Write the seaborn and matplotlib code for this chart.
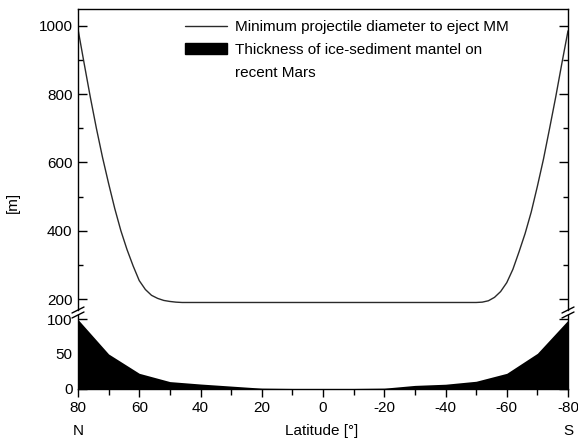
import matplotlib
matplotlib.use("Agg")
import numpy as np
import pandas as pd
import seaborn as sns
import matplotlib.pyplot as plt
from matplotlib.lines import Line2D
from matplotlib.patches import Patch
from matplotlib.ticker import MultipleLocator

# Минимальный диаметр снаряда (кривая)
lat_curve = [80, 78, 76, 74, 72, 70, 68, 66, 64, 62, 60, 58, 56, 54, 52, 50, 48, 46, 44,
             20, 0, -20, -40,
             -50, -52, -54, -56, -58, -60, -62, -64, -66, -68, -70, -72, -74, -76, -78, -80]
diam_curve = [990, 890, 792, 700, 615, 538, 465, 400, 345, 297, 254, 228, 211, 202, 196, 193, 191, 190, 190,
              190, 190, 190, 190,
              190, 191, 195, 205, 222, 248, 287, 338, 392, 455, 530, 610, 700, 792, 890, 985]

# Толщина ледяно-осадочной мантии
lat_mantle = [80, 70, 60, 50, 40, 30, 20, 10, 0, -10, -20, -30, -40, -50, -60, -70, -80]
thick_mantle = [100, 50, 22, 10, 6.5, 3.5, 0.5, 0, 0, 0, 0.5, 4.5, 6.2, 10.5, 22, 51, 99]

label_curve = "Minimum projectile diameter to eject MM"
label_mantle = ["Thickness of ice-sediment mantel on", "recent Mars"]

sns.set_style("ticks")
plt.rcParams['font.family'] = ['Liberation Sans', 'DejaVu Sans']
plt.rcParams['font.size'] = 11
plt.rcParams['axes.unicode_minus'] = False
plt.rcParams['text.color'] = 'black'
plt.rcParams['xtick.color'] = 'black'
plt.rcParams['ytick.color'] = 'black'

W, H = 578, 441
fig = plt.figure(figsize=(W / 100, H / 100), dpi=100)

def px(x, y):
    return x / W, 1 - y / H

left, right = 78, 568
top_y0, top_y1 = 9, 310
bot_y0, bot_y1 = 315, 388.5
ax_top = fig.add_axes([left / W, 1 - top_y1 / H, (right - left) / W, (top_y1 - top_y0) / H])
ax_bot = fig.add_axes([left / W, 1 - bot_y1 / H, (right - left) / W, (bot_y1 - bot_y0) / H])

df_curve = pd.DataFrame({"lat": lat_curve, "diam": diam_curve})
sns.lineplot(data=df_curve, x="lat", y="diam", ax=ax_top, color="#2a2a2a", lw=1.0,
             sort=False, label=label_curve)

ax_bot.fill_between(lat_mantle, 0, thick_mantle, color="black", lw=0)

for ax in (ax_top, ax_bot):
    ax.set_xlim(80, -80)
    ax.set_xlabel("")
    ax.set_ylabel("")
    for s in ax.spines.values():
        s.set_linewidth(1.0)
        s.set_color("black")

ax_top.set_ylim(168, 1049)
ax_top.spines["bottom"].set_visible(False)
ax_top.yaxis.set_major_locator(MultipleLocator(200))
ax_top.yaxis.set_minor_locator(MultipleLocator(100))
ax_top.set_yticks([200, 400, 600, 800, 1000])
ax_top.tick_params(axis="x", which="both", bottom=False, top=False, labelbottom=False)
ax_top.tick_params(axis="y", which="major", direction="in", left=True, right=True,
                   length=6.5, width=1.0, pad=4, labelsize=11)
ax_top.tick_params(axis="y", which="minor", direction="in", left=True, right=True,
                   length=3.5, width=1.0)

ax_bot.set_ylim(0, 106.5)
ax_bot.spines["top"].set_visible(False)
ax_bot.set_yticks([0, 50, 100])
ax_bot.xaxis.set_major_locator(MultipleLocator(20))
ax_bot.xaxis.set_minor_locator(MultipleLocator(10))
ax_bot.tick_params(axis="y", which="major", direction="in", left=True, right=True,
                   length=6.5, width=1.0, pad=4, labelsize=11)
ax_bot.tick_params(axis="x", which="major", direction="out", length=6, width=1.0,
                   pad=3, labelsize=11)
ax_bot.tick_params(axis="x", which="minor", direction="out", length=4, width=1.0)

# Легенда: второй подписи прямоугольник ставим к первой строке
h1, l1 = ax_top.get_legend_handles_labels()
handles = [h1[0], Patch(facecolor="black", edgecolor="black"),
           Patch(facecolor="none", edgecolor="none")]
leg = ax_top.legend(handles, [label_curve] + label_mantle, loc="upper left",
                    bbox_to_anchor=((185 - left) / (right - left), 0.962),
                    frameon=False, borderpad=0, borderaxespad=0, handlelength=2.75,
                    handleheight=0.75, handletextpad=0.5, labelspacing=0.56, fontsize=11)

# Знаки разрыва оси
for x in (left, right):
    for y in (top_y1, bot_y0):
        x0, y0 = px(x - 6, y + 3)
        x1, y1 = px(x + 6, y - 3)
        fig.add_artist(Line2D([x0, x1], [y0, y1], transform=fig.transFigure,
                              color="black", lw=1.0))

# Подписи
fig.text(*px(13, 202), "[m]", rotation=90, ha="center", va="center", fontsize=11)
fig.text(*px(322, 431), "Latitude [°]", ha="center", va="center", fontsize=11)
fig.text(*px(left, 431), "N", ha="center", va="center", fontsize=11)
fig.text(*px(right, 431), "S", ha="center", va="center", fontsize=11)

fig.savefig("out.png", dpi=100)
